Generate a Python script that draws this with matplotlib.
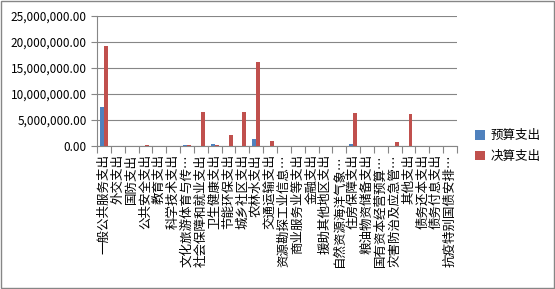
import matplotlib.pyplot as plt
import numpy as np
from matplotlib.ticker import FuncFormatter

plt.rcParams['font.family'] = ['Noto Sans CJK SC', 'DejaVu Sans']

# Catégories de dépenses (libellés tronqués comme dans l'original)
categories = ['一般公共服务支出', '外交支出', '国防支出', '公共安全支出', '教育支出',
              '科学技术支出', '文化旅游体育与传…', '社会保障和就业支出', '卫生健康支出',
              '节能环保支出', '城乡社区支出', '农林水支出', '交通运输支出',
              '资源勘探工业信息…', '商业服务业等支出', '金融支出', '援助其他地区支出',
              '自然资源海洋气象…', '住房保障支出', '粮油物资储备支出', '国有资本经营预算…',
              '灾害防治及应急管…', '其他支出', '债务还本支出', '债务付息支出',
              '抗疫特别国债安排…']

yusuan = [7500000, 0, 0, 0, 0, 0, 150000, 0, 350000, 0, 0, 1350000, 0,
          0, 0, 0, 0, 0, 380000, 0, 0, 0, 0, 0, 0, 0]
juesuan = [19200000, 0, 0, 150000, 0, 0, 150000, 6500000, 150000, 2100000,
           6500000, 16100000, 980000, 0, 0, 0, 0, 0, 6300000, 0, 0, 800000,
           6150000, 0, 0, 0]

fig = plt.figure(figsize=(5.55, 2.89), dpi=100)
ax = fig.add_axes([0.1748, 0.4948, 0.6486, 0.4498])

x = np.arange(len(categories))
w = 0.286
ax.bar(x - w / 2, yusuan, w, color='#4F81BD', label='预算支出', zorder=3)
ax.bar(x + w / 2, juesuan, w, color='#C0504D', label='决算支出', zorder=3)

ax.set_xlim(-0.5, len(categories) - 0.5)
ax.set_ylim(0, 25000000)
ax.set_yticks(np.arange(0, 25000001, 5000000))
ax.yaxis.set_major_formatter(FuncFormatter(lambda v, p: f'{v:,.2f}'))
ax.grid(axis='y', color='#868686', linewidth=0.8, zorder=0)

ax.set_xticks(x)
ax.set_xticklabels(categories, rotation=90, va='top', fontsize=9)
ax.set_xticks(np.arange(-0.5, len(categories), 1), minor=True)
ax.tick_params(axis='x', which='major', length=0, pad=6)
ax.tick_params(axis='x', which='minor', length=5, color='#868686', width=0.8)
ax.tick_params(axis='y', length=4, color='#868686', width=0.8, labelsize=8.5)
for lab in ax.get_yticklabels():
    lab.set_fontstyle('italic')

for s in ['top', 'right']:
    ax.spines[s].set_visible(False)
for s in ['left', 'bottom']:
    ax.spines[s].set_color('#868686')
    ax.spines[s].set_linewidth(0.8)

fig.legend(loc='center left', bbox_to_anchor=(0.835, 0.495), frameon=False,
           fontsize=9, handlelength=0.8, handleheight=0.8, handletextpad=0.5,
           labelspacing=0.6)

# cadre extérieur gris
fig.patches.append(plt.Rectangle((0.001, 0.002), 0.997, 0.995, transform=fig.transFigure,
                                 fill=False, edgecolor='#868686', linewidth=1))

plt.savefig('out.png', dpi=100)
